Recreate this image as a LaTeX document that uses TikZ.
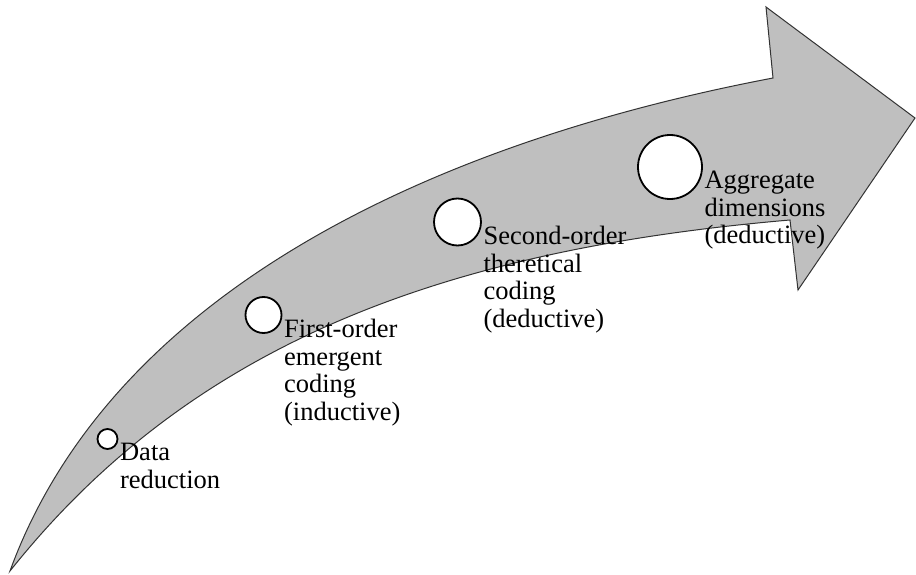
\documentclass[tikz,border=0pt]{standalone}
\usepackage{fontspec}
\setmainfont{Liberation Serif}
\usepackage{tikz}

\begin{document}
\begin{tikzpicture}[x=1pt, y=-1pt,
    stage/.style={circle, draw=black, line width=1.8pt, fill=white, inner sep=0pt},
    stagetext/.style={anchor=north west, align=left, inner sep=0pt,
                      font=\fontsize{26.5}{27.5}\selectfont}]
  \useasboundingbox (0,0) rectangle (916,575);
  % curved arrow
  \draw[line width=1pt, draw=black!80, fill=black!25]
    (10,571) .. controls (110,297) and (423,144.5) .. (773,78)
    -- (766,7) -- (915,118) -- (798,290) -- (790,220)
    .. controls (440,250) and (190,345) .. cycle;
  \foreach \n/\x/\y/\d/\lbl in {1/107.5/439/20/{Data\\reduction},
      2/263.5/315/36/{First-order\\emergent\\coding\\(inductive)},
      3/457.5/222/47/{Second-order\\theretical\\coding\\(deductive)},
      4/670/167/64/{Aggregate\\dimensions\\(deductive)}} {
    \node[stage, minimum size=\d pt] (c\n) at (\x,\y) {};
    \node[stagetext, xshift=1.5pt, yshift=-4pt] (t\n) at (c\n.east) {\lbl};
  }
\end{tikzpicture}
\end{document}
